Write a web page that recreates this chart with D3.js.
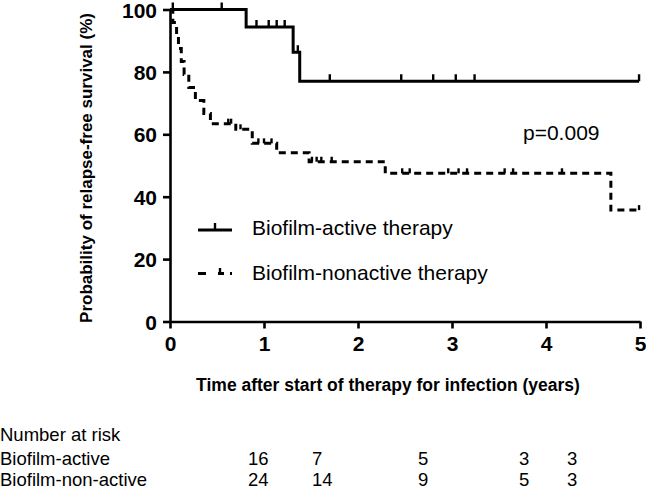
<!DOCTYPE html>
<html>
<head>
<meta charset="utf-8">
<script src="https://cdn.jsdelivr.net/npm/d3@7"></script>
<style>
  html, body { margin: 0; padding: 0; background: #fff; }
  svg { display: block; }
  text { font-family: "Liberation Sans", Arial, Helvetica, sans-serif; fill: #000; }
</style>
</head>
<body>
<svg id="chart" width="646" height="489"></svg>
<script>
// ---- data ----
const yTicks = [0, 20, 40, 60, 80, 100];
const xTicks = [0, 1, 2, 3, 4, 5];

const activeTimes = [0, 0.81, 1.31, 1.38];
const activeSurv  = [100, 94.4, 86.3, 77.0];
const activeCensor = [0.03, 0.55, 0.92, 1.05, 1.135, 1.22, 1.36, 1.70, 2.46, 2.80, 3.04, 3.24, 4.99];
const activeEnd = 4.99;

const nonactiveTimes = [0, 0.03, 0.07, 0.09, 0.12, 0.15, 0.20, 0.27, 0.36, 0.43, 0.70, 0.875, 1.135, 1.48, 2.29, 4.69];
const nonactiveSurv  = [100, 95.8, 91.7, 87.5, 83.3, 79.2, 75.0, 70.8, 66.7, 63.4, 61.6, 57.1, 54.1, 51.2, 47.5, 35.7];
const nonactiveCensor = [0.62, 0.65, 0.75, 0.94, 1.0, 1.08, 1.51, 1.56, 1.61, 1.72, 2.47, 2.55, 2.96, 3.07, 3.16, 3.56, 3.65, 4.17, 4.99];
const nonactiveEnd = 4.99;

const legendLabels = ["Biofilm-active therapy", "Biofilm-nonactive therapy"];
const pValueLabel = "p=0.009";
const xTitle = "Time after start of therapy for infection (years)";
const yTitle = "Probability of relapse-free survival (%)";

const riskTitle = "Number at risk";
const riskGroups = ["Biofilm-active", "Biofilm-non-active"];
const riskActive = [16, 7, 5, 3, 3];
const riskNonactive = [24, 14, 9, 5, 3];

// ---- layout ----
const svg = d3.select("#chart");
const x = d3.scaleLinear().domain([0, 5]).range([170, 640]);
const y = d3.scaleLinear().domain([0, 100]).range([321.5, 9.5]);
const riskColX = [248, 312, 418, 519, 567];

function survAt(times, surv, t) {
  let v = surv[0];
  for (let i = 0; i < times.length; i++) if (times[i] <= t) v = surv[i];
  return v;
}

// axes
const yAxis = svg.append("g").attr("transform", `translate(${x(0)},0)`)
  .call(d3.axisLeft(y).tickValues(yTicks).tickFormat(d3.format("d")).tickSize(7).tickSizeOuter(0));
const xAxis = svg.append("g").attr("transform", `translate(0,${y(0)})`)
  .call(d3.axisBottom(x).tickValues(xTicks).tickFormat(d3.format("d")).tickSize(7).tickSizeOuter(0));

[yAxis, xAxis].forEach(g => {
  g.select(".domain").attr("stroke", "#000").attr("stroke-width", 2.6);
  g.selectAll(".tick line").attr("stroke", "#000").attr("stroke-width", 2.6);
  g.selectAll(".tick text")
    .style("font-family", '"Liberation Sans", Arial, sans-serif')
    .style("font-weight", "bold").style("font-size", "21px").attr("fill", "#000");
});
yAxis.selectAll(".tick text").attr("x", -13).attr("dy", "0.36em");
xAxis.selectAll(".tick text").attr("y", 15).attr("dy", "0.71em");

// axis titles
svg.append("text").attr("transform", `translate(92,168) rotate(-90)`)
  .attr("text-anchor", "middle").style("font-weight", "bold").style("font-size", "17px")
  .text(yTitle);
svg.append("text").attr("x", 388).attr("y", 391)
  .attr("text-anchor", "middle").style("font-weight", "bold").style("font-size", "17.5px")
  .text(xTitle);

// curves
const stepLine = d3.line().x(d => x(d[0])).y(d => y(d[1])).curve(d3.curveStepAfter);

function curvePoints(times, surv, end) {
  const pts = times.map((t, i) => [t, surv[i]]);
  pts.push([end, surv[surv.length - 1]]);
  return pts;
}

svg.append("path").datum(curvePoints(activeTimes, activeSurv, activeEnd))
  .attr("d", stepLine).attr("fill", "none").attr("stroke", "#000")
  .attr("stroke-width", 3).attr("stroke-linejoin", "miter");

svg.append("path").datum(curvePoints(nonactiveTimes, nonactiveSurv, nonactiveEnd))
  .attr("d", stepLine).attr("fill", "none").attr("stroke", "#000")
  .attr("stroke-width", 3).attr("stroke-dasharray", "7,5");

// censor marks
svg.append("g").selectAll("line").data(activeCensor).join("line")
  .attr("x1", d => x(d)).attr("x2", d => x(d))
  .attr("y1", d => y(survAt(activeTimes, activeSurv, d)))
  .attr("y2", d => y(survAt(activeTimes, activeSurv, d)) - 7)
  .attr("stroke", "#000").attr("stroke-width", 2.4);

svg.append("g").selectAll("line").data(nonactiveCensor).join("line")
  .attr("x1", d => x(d)).attr("x2", d => x(d))
  .attr("y1", d => y(survAt(nonactiveTimes, nonactiveSurv, d)))
  .attr("y2", d => y(survAt(nonactiveTimes, nonactiveSurv, d)) - 5)
  .attr("stroke", "#000").attr("stroke-width", 2.4);

// legend
const lg = svg.append("g");
lg.append("line").attr("x1", 198).attr("x2", 232).attr("y1", 230).attr("y2", 230)
  .attr("stroke", "#000").attr("stroke-width", 3);
lg.append("line").attr("x1", 215).attr("x2", 215).attr("y1", 230).attr("y2", 223)
  .attr("stroke", "#000").attr("stroke-width", 2.4);
lg.append("text").attr("x", 252).attr("y", 235).style("font-size", "21px").text(legendLabels[0]);

lg.append("line").attr("x1", 198).attr("x2", 232).attr("y1", 273.5).attr("y2", 273.5)
  .attr("stroke", "#000").attr("stroke-width", 3).attr("stroke-dasharray", "8,12,6,6,4");
lg.append("line").attr("x1", 220).attr("x2", 220).attr("y1", 273.5).attr("y2", 268)
  .attr("stroke", "#000").attr("stroke-width", 2.4);
lg.append("text").attr("x", 252).attr("y", 280).style("font-size", "21px").text(legendLabels[1]);

// p value
svg.append("text").attr("x", 523).attr("y", 140).style("font-size", "21px").text(pValueLabel);

// risk table
svg.append("text").attr("x", 0).attr("y", 441).style("font-size", "18.5px").text(riskTitle);
svg.append("text").attr("x", 0).attr("y", 465).style("font-size", "18.5px").text(riskGroups[0]);
svg.append("text").attr("x", 0).attr("y", 486).style("font-size", "18.5px").text(riskGroups[1]);
svg.append("g").selectAll("text").data(riskActive).join("text")
  .attr("x", (d, i) => riskColX[i]).attr("y", 465).style("font-size", "18.5px").text(d => d);
svg.append("g").selectAll("text").data(riskNonactive).join("text")
  .attr("x", (d, i) => riskColX[i]).attr("y", 486).style("font-size", "18.5px").text(d => d);
</script>
</body>
</html>
